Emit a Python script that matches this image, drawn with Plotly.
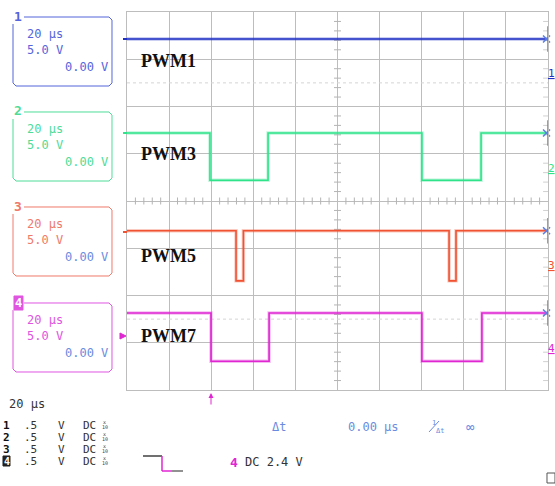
import plotly.graph_objects as go

# ---- figure geometry (pixels) ----
W, H = 555, 486
L, R, T, B = 127, 548, 12, 390

# ---- waveform data: time in µs (20 µs/div, 10 div), level in divisions ----
ch1_t = [0, 200]
ch1_v = [3.43, 3.43]

ch2_t = [0, 39.4, 67.0, 140.1, 168.2, 200]
ch2_v = [1.44, 0.44, 1.44, 0.44, 1.44, 1.44]

ch3_t = [0, 51.8, 55.3, 153.0, 156.3, 200]
ch3_v = [-0.63, -1.69, -0.63, -1.69, -0.63, -0.63]

ch4_t = [0, 39.9, 67.5, 140.1, 168.6, 200]
ch4_v = [-2.37, -3.39, -2.37, -3.39, -2.37, -2.37]

trace_names = ["PWM1", "PWM3", "PWM5", "PWM7"]
trace_colors = ["#1f2fc4", "#2fe38a", "#f05232", "#e026d2"]
box_colors = ["#5565dc", "#4fdc98", "#f07a6a", "#e055e0"]
offset_color = "#6a8ce0"
name_y = [61, 154, 256, 336]          # label rows (px)
box_tops = [17, 112, 207, 303]        # channel info boxes (px)
ground_marks = [73, 168, 265, 348]    # right-edge channel markers (px)

time_div = "20 µs"
volt_div = "5.0 V"
offset_txt = "0.00 V"
trig_txt = "DC 2.4 V"


def px(x):
    return (x - L) / (R - L)


def py(y):
    return (B - y) / (B - T)


MONO = "DejaVu Sans Mono"
ann = []
shapes = []


def txt(x, y, s, color="#222", size=12, anchor="left", family=MONO, pad=1):
    ann.append(dict(x=px(x), y=py(y), xref="paper", yref="paper", text=s,
                    showarrow=False, xanchor=anchor, yanchor="middle",
                    borderpad=pad,
                    font=dict(family=family, size=size, color=color)))


def pline(x0, y0, x1, y1, color, width=1, dash=None):
    shapes.append(dict(type="line", xref="paper", yref="paper",
                       x0=px(x0), y0=py(y0), x1=px(x1), y1=py(y1),
                       line=dict(color=color, width=width, dash=dash)))


def ppath(pts, color, width=1, fill=None, closed=False):
    d = "M " + " L ".join(f"{px(a):.5f},{py(b):.5f}" for a, b in pts)
    if closed:
        d += " Z"
    s = dict(type="path", xref="paper", yref="paper", path=d,
             line=dict(color=color, width=width))
    if fill:
        s["fillcolor"] = fill
    shapes.append(s)


fig = go.Figure()

# faint dotted sub-grid rows
for yv in (2.5, -2.5):
    fig.add_trace(go.Scatter(x=[0, 200], y=[yv, yv], mode="lines",
                             line=dict(color="#d4d4d4", width=1, dash="dot"),
                             hoverinfo="skip", showlegend=False))

# minor ticks along the centre axes and right edge
GRID = "#b4b4b4"
tick_x = [i * 4 for i in range(1, 50) if i % 5]
tick_y = [i * 0.2 - 4 for i in range(1, 40) if i % 5]
fig.add_trace(go.Scatter(x=tick_x, y=[0] * len(tick_x), mode="markers",
                         marker=dict(symbol="line-ns-open", size=5, color=GRID,
                                     line=dict(color=GRID, width=1)),
                         hoverinfo="skip", showlegend=False))
fig.add_trace(go.Scatter(x=[100] * len(tick_y), y=tick_y, mode="markers",
                         marker=dict(symbol="line-ew-open", size=5, color=GRID,
                                     line=dict(color=GRID, width=1)),
                         hoverinfo="skip", showlegend=False))
fig.add_trace(go.Scatter(x=[199] * len(tick_y), y=tick_y, mode="markers",
                         marker=dict(symbol="line-ew-open", size=4,
                                     color="#d0d0d0",
                                     line=dict(color="#d0d0d0", width=1)),
                         hoverinfo="skip", showlegend=False))

# waveforms
for t, v, c in zip([ch1_t, ch2_t, ch3_t, ch4_t],
                   [ch1_v, ch2_v, ch3_v, ch4_v], trace_colors):
    fig.add_trace(go.Scatter(x=t, y=v, mode="lines", line_shape="hv",
                             line=dict(color=c, width=3.4), opacity=0.3,
                             hoverinfo="skip", showlegend=False))
    fig.add_trace(go.Scatter(x=t, y=v, mode="lines", line_shape="hv",
                             line=dict(color=c, width=1.6),
                             hoverinfo="skip", showlegend=False))

# cursor marks on the right border
CUR = "#5a7ee6"
levels = [ch1_v[0], ch2_v[0], ch3_v[0], ch4_v[0]]
for lv in levels:
    fig.add_trace(go.Scatter(x=[200, 200], y=[lv - 0.27, lv + 0.27], mode="lines",
                             line=dict(color=CUR, width=1.5),
                             hoverinfo="skip", showlegend=False, cliponaxis=False))
fig.add_trace(go.Scatter(x=[199.3] * 4, y=levels, mode="markers",
                         marker=dict(symbol="x-thin-open", size=7, color=CUR,
                                     line=dict(color=CUR, width=1.5)),
                         hoverinfo="skip", showlegend=False, cliponaxis=False))

# channel names
for name, y in zip(trace_names, name_y):
    txt(139, y, f"<b>{name}</b>", "#111", 18, family="Liberation Serif")

# left level markers
for c, y in zip(trace_colors[:3], [39, 133, 232]):
    pline(123, y, 127, y, c, 2)
ppath([(120, 333), (126, 336), (120, 339)], trace_colors[3], 1,
      fill=trace_colors[3], closed=True)

# right-edge channel numbers
for i, (c, y) in enumerate(zip(trace_colors, ground_marks)):
    txt(551, y, f"<u>{i + 1}</u>", c, 11, anchor="center", pad=0)

# channel info boxes
for i, (top, c) in enumerate(zip(box_tops, box_colors)):
    bot = top + 69
    ppath([(24, top), (109, top), (112, top + 3), (112, bot - 3), (109, bot),
           (16, bot), (13, bot - 3), (13, top + 7)], c, 1)
    if i == 3:
        ppath([(14, top - 7), (23, top - 7), (23, top + 7), (14, top + 7)],
              c, 1, fill=c, closed=True)
        txt(18.5, top, "<b>4</b>", "white", 12, anchor="center")
    else:
        txt(18.5, top - 1, f"<b>{i + 1}</b>", c, 13, anchor="center")
    txt(25, top + 17, time_div, c, 12)
    txt(25, top + 33, volt_div, c, 12)
    txt(110, top + 50, offset_txt, c if i < 2 else offset_color, 12,
        anchor="right")

# trigger position arrow
ann.append(dict(x=px(211), y=py(393), xref="paper", yref="paper", text="",
                showarrow=True, ax=0, ay=13, arrowhead=2, arrowsize=1,
                arrowwidth=1, arrowcolor=trace_colors[3]))

# bottom status area
txt(7, 404, time_div, "#333", 12)
row_y = [425, 437, 449, 461]
for i, y in enumerate(row_y):
    if i == 3:
        ppath([(3, y - 5), (10, y - 5), (10, y + 5), (3, y + 5)], "#222", 1,
              fill="#222", closed=True)
        txt(6.5, y, "<b>4</b>", "white", 10, anchor="center", pad=0)
    else:
        txt(6.5, y, f"<b>{i + 1}</b>", "#111", 11, anchor="center", pad=0)
    txt(22, y, ".5", "#333", 11)
    txt(56, y, "V", "#333", 11)
    txt(81, y, "DC", "#333", 11)
    txt(101, y - 3, "x", "#444", 5)
    txt(100, y + 2, "10", "#444", 5)

pline(143, 456, 162, 456, "#222", 1.3)
pline(162, 456, 162, 471, trace_colors[3], 1.5)
pline(162, 471, 172, 471, trace_colors[3], 1.5)
pline(172, 471, 183, 471, "#555", 1.3)
txt(228, 462, "<b>4</b>", trace_colors[3], 13)
txt(243, 462, trig_txt, "#333", 12)

txt(270, 427, "Δt", offset_color, 12)
txt(346, 427, "0.00 µs", offset_color, 12)
txt(430, 423, "1", offset_color, 7)
txt(434, 431, "Δt", offset_color, 7)
pline(429, 432, 439, 421, offset_color, 1)
txt(464, 427, "∞", offset_color, 14)
ppath([(547, 473), (555, 473), (555, 483), (547, 483)], "#555", 1, closed=True)

fig.update_layout(
    width=W, height=H,
    margin=dict(l=L, r=W - R, t=T, b=H - B),
    paper_bgcolor="white", plot_bgcolor="white",
    xaxis=dict(range=[0, 200], dtick=20, tick0=0, showgrid=True,
               gridcolor="#bdbdbd", gridwidth=1, zeroline=False,
               showticklabels=False, ticks="", showline=True,
               linecolor="#bdbdbd", mirror=True, fixedrange=True),
    yaxis=dict(range=[-4, 4], dtick=1, tick0=0, showgrid=True,
               gridcolor="#bdbdbd", gridwidth=1, zeroline=False,
               showticklabels=False, ticks="", showline=True,
               linecolor="#bdbdbd", mirror=True, fixedrange=True),
    annotations=ann, shapes=shapes, showlegend=False,
)

fig.write_html("out.html")
